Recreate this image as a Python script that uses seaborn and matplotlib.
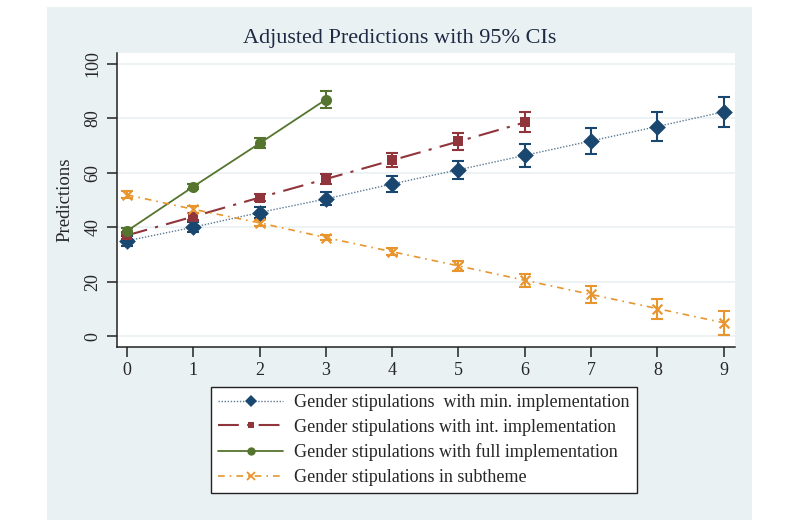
"""Adjusted predictions with 95% CIs, Stata-like styling."""

import matplotlib.pyplot as plt
from matplotlib.patches import Rectangle
import pandas as pd
import seaborn as sns

# data
x_min = [0, 1, 2, 3, 4, 5, 6, 7, 8, 9]
y_min = [35.0, 40.0, 45.4, 50.4, 55.9, 61.1, 66.4, 71.7, 77.0, 82.4]
ci_min = [1.8, 1.8, 2.0, 2.4, 3.0, 3.4, 4.1, 4.7, 5.2, 5.6]

x_int = [0, 1, 2, 3, 4, 5, 6]
y_int = [37.0, 43.9, 50.9, 57.7, 64.6, 71.5, 78.5]
ci_int = [1.4, 1.4, 1.2, 1.7, 2.5, 3.1, 3.7]

x_full = [0, 1, 2, 3]
y_full = [38.6, 54.9, 70.8, 86.9]
ci_full = [1.0, 1.0, 1.8, 3.0]

x_sub = [0, 1, 2, 3, 4, 5, 6, 7, 8, 9]
y_sub = [51.9, 46.6, 41.6, 36.2, 31.0, 25.8, 20.5, 15.3, 10.1, 4.9]
ci_sub = [1.3, 1.3, 1.1, 1.0, 1.2, 1.8, 2.5, 3.2, 3.7, 4.4]

labels = ["Gender stipulations  with min. implementation",
          "Gender stipulations with int. implementation",
          "Gender stipulations with full implementation",
          "Gender stipulations in subtheme"]
y_ticks = [0, 20, 40, 60, 80, 100]
x_ticks = list(range(10))

series = [
    (x_min, y_min, ci_min, dict(color="#1a476f", marker="D", markersize=8.5,
                                linestyle=(0, (1, 1.2)), linewidth=1.0,
                                line_color="#5d7a94")),
    (x_int, y_int, ci_int, dict(color="#90353b", marker="s", markersize=6.5,
                                linestyle=(0, (10, 4, 1.5, 4)), linewidth=1.5,
                                line_color="#90353b")),
    (x_full, y_full, ci_full, dict(color="#55752f", marker="o", markersize=8,
                                   linestyle="-", linewidth=1.3,
                                   line_color="#55752f")),
    (x_sub, y_sub, ci_sub, dict(color="#e8952e", marker="x", markersize=7,
                                linestyle=(0, (4, 3, 1, 3)), linewidth=1.2,
                                line_color="#e8952e")),
]

sns.set_style("white")
plt.rcParams['font.family'] = ['Liberation Serif', 'DejaVu Serif']

fig = plt.figure(figsize=(7.96, 5.32), dpi=100)
fig.patch.set_facecolor("white")
# Stata graph region, kept behind the axes
fig.patches.append(Rectangle((47 / 796, 1 - 520 / 532), 705 / 796, 513 / 532,
                             transform=fig.transFigure, facecolor="#eaf1f3",
                             edgecolor="none", zorder=-10))

ax = fig.add_axes([117 / 796, 1 - 347 / 532, 618 / 796, 294 / 532])
ax.set_zorder(1)
ax.set_facecolor("white")

for i, (xs, ys, ci, st) in enumerate(series):
    df = pd.DataFrame({"x": xs, "y": ys})
    ax.errorbar(xs, ys, yerr=ci, fmt="none", ecolor=st["color"],
                elinewidth=1.5, capsize=4.5, capthick=1.5, zorder=3)
    sns.lineplot(data=df, x="x", y="y", ax=ax, color=st["line_color"],
                 linestyle=st["linestyle"], linewidth=st["linewidth"],
                 zorder=2, label=None)
    sns.scatterplot(data=df, x="x", y="y", ax=ax, color=st["color"],
                    marker=st["marker"], s=st["markersize"] ** 2,
                    linewidth=1.5 if st["marker"] == "x" else 0,
                    zorder=4, legend=False)

ax.set_xlim(-0.15, 9.17)
ax.set_ylim(-4, 104)
ax.set_xticks(x_ticks)
ax.set_yticks(y_ticks)
ax.set_yticklabels([str(t) for t in y_ticks], rotation=90, va="center")
ax.yaxis.grid(True, color="#eaf1f3", linewidth=1.2)
ax.xaxis.grid(False)
ax.set_axisbelow(True)
for side in ["top", "right"]:
    ax.spines[side].set_visible(False)
for side in ["left", "bottom"]:
    ax.spines[side].set_color("#222222")
    ax.spines[side].set_linewidth(1.1)
ax.tick_params(axis="both", direction="out", length=7, width=1.1,
               color="#222222", labelsize=13, pad=4, left=True, bottom=True)
ax.set_xlabel("")
ax.set_ylabel("Predictions", fontsize=13.5, labelpad=8)

fig.text(400 / 796, 1 - 38 / 532, "Adjusted Predictions with 95% CIs",
         ha="center", va="center", fontsize=16, color="#1e2a44")

# legend handles with marker in the middle of the line
handles = []
for xs, ys, ci, st in series:
    h, = ax.plot([], [], color=st["line_color"], linestyle=st["linestyle"],
                 linewidth=st["linewidth"], marker=st["marker"],
                 markersize=st["markersize"] * 0.75,
                 markerfacecolor=st["color"], markeredgecolor=st["color"],
                 markeredgewidth=1.3 if st["marker"] == "x" else 0)
    handles.append(h)
if ax.get_legend() is not None:
    ax.get_legend().remove()
leg = fig.legend(handles, labels, loc="upper left",
                 bbox_to_anchor=(211 / 796, 1 - 387 / 532),
                 ncol=1, fontsize=13, frameon=True, fancybox=False,
                 edgecolor="#222222", framealpha=1, handlelength=3.6,
                 numpoints=1, borderpad=0.4, labelspacing=0.42,
                 handletextpad=0.6, borderaxespad=0)
leg.get_frame().set_linewidth(1.0)

fig.savefig("out.png", dpi=100)
